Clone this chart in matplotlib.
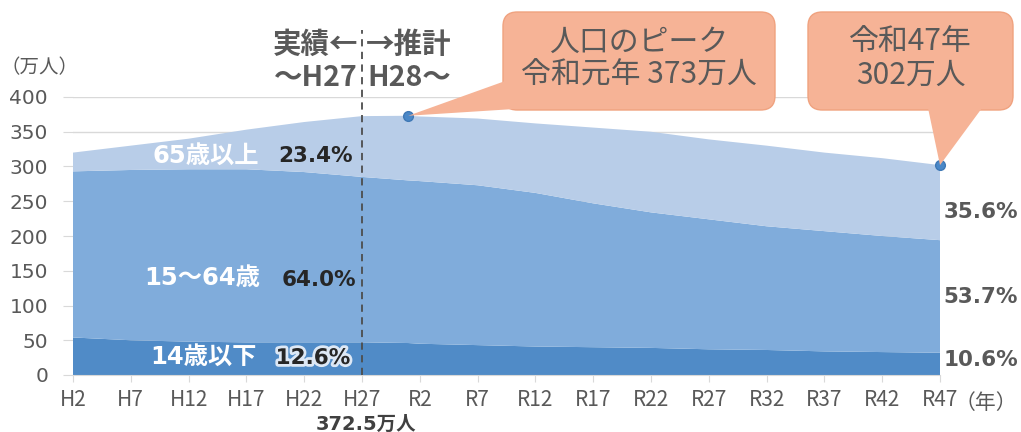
import matplotlib
matplotlib.use("Agg")
import matplotlib.pyplot as plt
import matplotlib.patheffects as pe
from matplotlib.patches import FancyBboxPatch, Polygon
import numpy as np

# ---- data ----
years = [1990, 1995, 2000, 2005, 2010, 2015, 2019, 2020, 2025, 2030, 2035,
         2040, 2045, 2050, 2055, 2060, 2065]
age_0_14 = [54, 50, 48, 47, 47, 47, 46, 45, 43, 41, 40, 39, 37, 36, 34, 33, 32]
age_15_64 = [239, 245, 248, 249, 245, 238, 234, 234, 230, 221, 207, 195, 187, 178, 173, 167, 162]
age_65 = [27, 35, 44, 57, 72, 87.5, 93, 93, 96, 100, 109, 116, 115, 116, 113, 112, 108]

tick_years = [1990, 1995, 2000, 2005, 2010, 2015, 2020, 2025, 2030, 2035,
              2040, 2045, 2050, 2055, 2060, 2065]
tick_labels = ["H2", "H7", "H12", "H17", "H22", "H27", "R2", "R7", "R12", "R17",
               "R22", "R27", "R32", "R37", "R42", "R47"]
y_ticks = [0, 50, 100, 150, 200, 250, 300, 350, 400]

peak_year, peak_value = 2019, 373
end_year, end_value = 2065, 302

series_names = ["14歳以下", "15〜64歳", "65歳以上"]
share_2015 = ["12.6%", "64.0%", "23.4%"]
share_2065 = ["10.6%", "53.7%", "35.6%"]

# ---- style ----
W, H = 1021, 432
CJK = "Noto Sans CJK JP"
MIX = ["DejaVu Sans", CJK]
GRAY = "#595959"
colors = ["#508bc7", "#80acdb", "#b8cde8"]
box_fc = "#f6b396"
box_ec = "#f0a27f"

fig = plt.figure(figsize=(W / 100, H / 100), dpi=100)


def px(x, y):
    return (x / W, 1 - y / H)


ax = fig.add_axes([73 / W, (H - 375) / H, (940 - 73) / W, (375 - 97) / H])
ax.stackplot(years, age_0_14, age_15_64, age_65, colors=colors, zorder=2,
             linewidth=0)
ax.set_xlim(1990, 2065)
ax.set_ylim(0, 400)
ax.set_yticks(y_ticks)
ax.set_yticklabels([str(v) for v in y_ticks], fontsize=14.5, color=GRAY,
                   family="DejaVu Sans")
ax.set_xticks(tick_years)
ax.set_xticklabels(tick_labels, fontsize=15, color=GRAY, family=CJK)
ax.yaxis.grid(True, color="#d9d9d9", linewidth=1, zorder=0)
ax.set_axisbelow(True)
for s in ["top", "right", "left"]:
    ax.spines[s].set_visible(False)
ax.spines["bottom"].set_color("#d9d9d9")
ax.tick_params(axis="y", length=7, color="#d9d9d9", pad=11)
ax.tick_params(axis="x", length=5, color="#d9d9d9", pad=5)

# dashed divider
ax.plot([2015, 2015], [0, 496], ls=(0, (4, 3)), color="#4d4d4d", lw=1.3,
        clip_on=False, zorder=5)

# peak / end markers
ax.plot([peak_year, end_year], [peak_value, end_value], "o", color="#4a88c8",
        markersize=7, markeredgecolor="#3f78b5", zorder=6, clip_on=False)

# header text
hdr = dict(fontsize=20.5, fontweight="bold", color=GRAY, family=CJK,
           va="center")
fig.text(*px(358, 45), "実績←", ha="right", **hdr)
fig.text(*px(366, 45), "→推計", ha="left", **hdr)
fig.text(*px(358, 78), "〜H27", ha="right", **hdr)
fig.text(*px(367, 78), "H28〜", ha="left", **hdr)

fig.text(*px(39, 68), "（万人）", fontsize=14, color=GRAY, family=CJK,
         ha="center", va="center")
fig.text(*px(986, 403), "（年）", fontsize=15, color=GRAY, family=CJK,
         ha="center", va="center")
fig.text(*px(366, 424), "372.5万人", fontsize=14, fontweight="bold",
         color="#404040", family=MIX, ha="center", va="center")

# in-chart labels
lab = dict(fontsize=17.5, fontweight="bold", color="white", family=MIX,
           ha="center", va="center", zorder=7)
fig.text(*px(206, 156), series_names[2], **lab)
fig.text(*px(202, 278), series_names[1], **lab)
fig.text(*px(203, 357), series_names[0], **lab)
pct = dict(fontsize=15.5, fontweight="bold", color="#262626", family="DejaVu Sans",
           ha="center", va="center", zorder=7)
fig.text(*px(315, 156), share_2015[2], **pct)
fig.text(*px(319, 280), share_2015[1], **pct)
t = fig.text(*px(313, 358), share_2015[0], **pct)
t.set_path_effects([pe.withStroke(linewidth=4, foreground="#dde8f5")])
rp = dict(fontsize=15.5, fontweight="bold", color=GRAY, family="DejaVu Sans",
          ha="center", va="center")
fig.text(*px(981, 212), share_2065[2], **rp)
fig.text(*px(981, 297), share_2065[1], **rp)
fig.text(*px(981, 360), share_2065[0], **rp)

# callouts
fig_inv = fig.transFigure.inverted()


def data_to_fig(x, y):
    return fig_inv.transform(ax.transData.transform((x, y)))


def callout(x0, y0, x1, y1, wedge_px, target, lines):
    bx, by = px(x0, y1)
    bw, bh = (x1 - x0) / W, (y1 - y0) / H
    box = FancyBboxPatch((bx, by), bw, bh,
                         boxstyle="round,pad=0,rounding_size=0.014",
                         transform=fig.transFigure, facecolor=box_fc,
                         edgecolor=box_ec, lw=1.0, zorder=8,
                         mutation_aspect=W / H)
    fig.patches.append(box)
    tx, ty = data_to_fig(*target)
    pts = [(tx, ty)] + [px(*p) for p in wedge_px]
    poly = Polygon(pts, closed=True, transform=fig.transFigure,
                   facecolor=box_fc, edgecolor="none", zorder=9)
    fig.patches.append(poly)
    cx = (x0 + x1) / 2
    for (yy, s) in lines:
        fig.text(*px(cx, yy), s, fontsize=21.5, color=GRAY, family=CJK,
                 ha="center", va="center", zorder=10)


callout(503, 12, 775, 110, [(508, 80), (530, 108)], (peak_year, peak_value),
        [(42, "人口のピーク"), (75, "令和元年 373万人")])
callout(808, 12, 1013, 110, [(928, 108), (982, 108)], (end_year, end_value),
        [(42, "令和47年"), (75, "302万人")])

fig.savefig("out.png", dpi=100)
